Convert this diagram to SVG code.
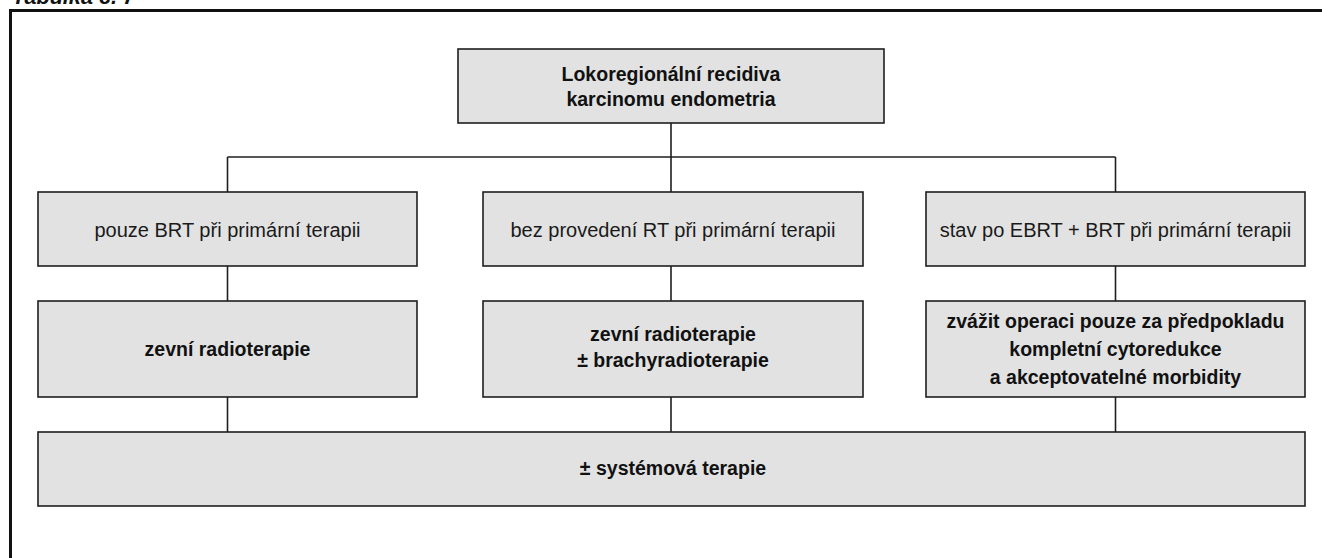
<svg xmlns="http://www.w3.org/2000/svg" width="1322" height="558" viewBox="0 0 1322 558">
<style>
.box{fill:#e2e2e2;stroke:#1e1e1e;stroke-width:1.6}
.conn line{stroke:#1e1e1e;stroke-width:1.6}
.t{font-family:"Liberation Sans",Arial,sans-serif;font-size:20px;fill:#1a1a1a;text-anchor:middle}
.b{font-family:"Liberation Sans",Arial,sans-serif;font-size:19.5px;font-weight:bold;fill:#111;text-anchor:middle}
</style>
<rect width="1322" height="558" fill="#fff"/>
<text x="12" y="4" font-family="Liberation Sans, Arial, sans-serif" font-size="22" font-weight="bold" font-style="italic" fill="#111" textLength="123" lengthAdjust="spacingAndGlyphs">Tabulka č. 7</text>
<rect x="10.5" y="10.5" width="1330" height="560" fill="none" stroke="#111" stroke-width="3"/>
<g class="conn" id="connectors">
<line x1="671" y1="123" x2="671" y2="157"/>
<line x1="227.5" y1="157" x2="1115.5" y2="157"/>
<line x1="227.5" y1="157" x2="227.5" y2="192"/>
<line x1="671" y1="157" x2="671" y2="192"/>
<line x1="1115.5" y1="157" x2="1115.5" y2="192"/>
<line x1="227.5" y1="266" x2="227.5" y2="301"/>
<line x1="671" y1="266" x2="671" y2="301"/>
<line x1="1115.5" y1="266" x2="1115.5" y2="301"/>
<line x1="227.5" y1="397" x2="227.5" y2="432"/>
<line x1="671" y1="397" x2="671" y2="432"/>
<line x1="1115.5" y1="397" x2="1115.5" y2="432"/>
</g>
<g id="root">
<rect class="box" x="458" y="49" width="426" height="74"/>
<text class="b" x="671" y="81">Lokoregionální recidiva</text>
<text class="b" x="671" y="106">karcinomu endometria</text>
</g>
<g id="c1">
<rect class="box" x="38" y="192" width="379" height="74"/>
<text class="t" x="227.5" y="237">pouze BRT při primární terapii</text>
</g>
<g id="c2">
<rect class="box" x="483" y="192" width="380" height="74"/>
<text class="t" x="673" y="237">bez provedení RT při primární terapii</text>
</g>
<g id="c3">
<rect class="box" x="926" y="192" width="379" height="74"/>
<text class="t" x="1115.5" y="237">stav po EBRT + BRT při primární terapii</text>
</g>
<g id="t1">
<rect class="box" x="38" y="301" width="379" height="96"/>
<text class="b" x="227.5" y="356">zevní radioterapie</text>
</g>
<g id="t2">
<rect class="box" x="483" y="301" width="380" height="96"/>
<text class="b" x="673" y="341">zevní radioterapie</text>
<text class="b" x="673" y="367">± brachyradioterapie</text>
</g>
<g id="t3">
<rect class="box" x="926" y="301" width="379" height="96"/>
<text class="b" x="1115.5" y="328">zvážit operaci pouze za předpokladu</text>
<text class="b" x="1115.5" y="356">kompletní cytoredukce</text>
<text class="b" x="1115.5" y="384">a akceptovatelné morbidity</text>
</g>
<g id="sys">
<rect class="box" x="38" y="432" width="1267" height="74"/>
<text class="b" x="673" y="475">± systémová terapie</text>
</g>
</svg>
